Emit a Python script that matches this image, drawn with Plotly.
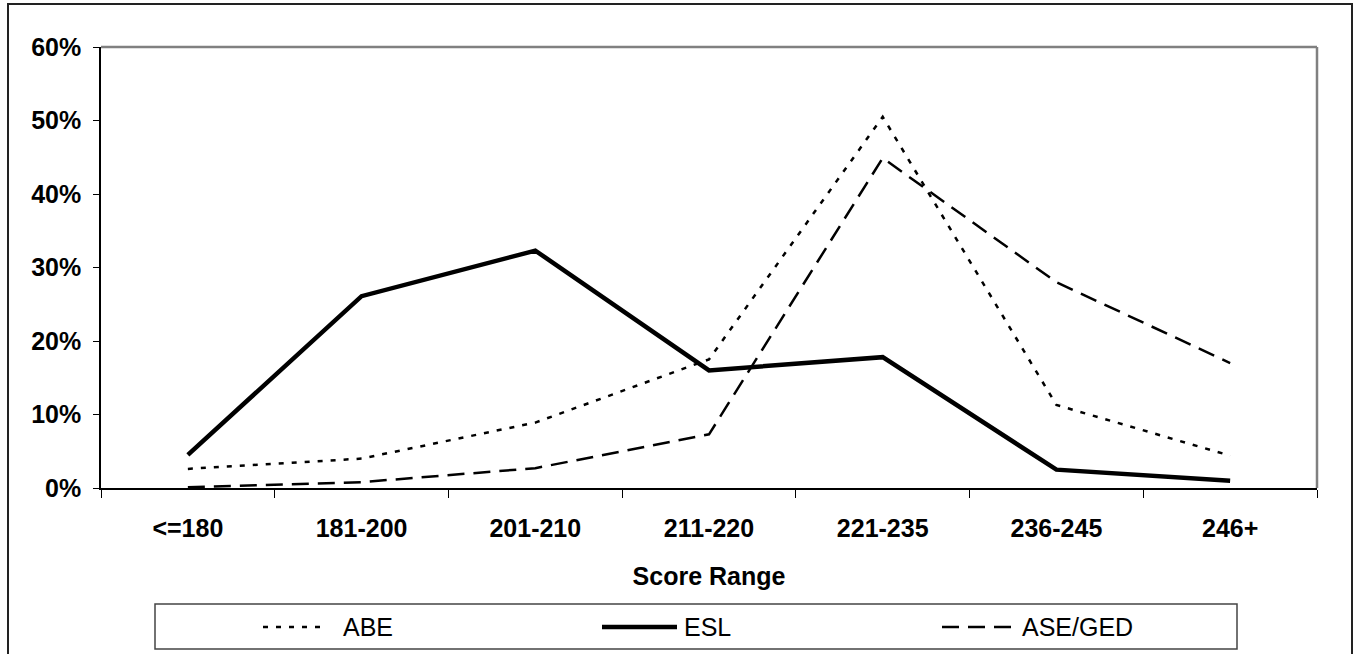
import plotly.graph_objects as go

# Score ranges on the x axis
score_ranges = ["<=180", "181-200", "201-210", "211-220", "221-235", "236-245", "246+"]

# Share of learners in each score range, by program
abe = [0.026, 0.040, 0.089, 0.175, 0.505, 0.113, 0.044]
esl = [0.045, 0.261, 0.323, 0.160, 0.178, 0.025, 0.010]
ase_ged = [0.001, 0.008, 0.027, 0.073, 0.449, 0.280, 0.170]

series_names = ["ABE", "ESL", "ASE/GED"]

W, H = 1361, 654
PL, PR, PT, PB = 101, 1317, 47, 488  # plot area in pixels

FONT = "Liberation Sans, Arial, sans-serif"


def px_x(px):
    return (px - PL) / (PR - PL)


def px_y(py):
    return (PB - py) / (PB - PT)


styles = [
    dict(color="black", width=2.5, dash="5px,8px"),
    dict(color="black", width=4.5, dash="solid"),
    dict(color="black", width=2.5, dash="17px,9px"),
]

fig = go.Figure()
for name, vals, st in zip(series_names, [abe, esl, ase_ged], styles):
    fig.add_trace(go.Scatter(
        x=score_ranges, y=vals, mode="lines", name=name,
        line=st, showlegend=False, hoverinfo="skip",
    ))

shapes = []
# outer frame of the chart
shapes.append(dict(type="rect", xref="paper", yref="paper",
                   x0=px_x(8), x1=px_x(1352), y0=px_y(700), y1=px_y(4),
                   line=dict(color="#222", width=2), fillcolor="rgba(0,0,0,0)", layer="below"))
# grey top and right edges of the plot area
shapes.append(dict(type="line", xref="paper", yref="paper", x0=0, x1=1, y0=1, y1=1,
                   line=dict(color="#808080", width=2.5)))
shapes.append(dict(type="line", xref="paper", yref="paper", x0=1, x1=1, y0=0, y1=1,
                   line=dict(color="#808080", width=2.5)))

# key box below the axis title
shapes.append(dict(type="rect", xref="paper", yref="paper",
                   x0=px_x(155), x1=px_x(1237), y0=px_y(649), y1=px_y(604),
                   line=dict(color="#444", width=1.5), fillcolor="rgba(0,0,0,0)"))

key_y = px_y(627)
key_lines = [(263, 327, 341), (602, 677, 682), (942, 1013, 1020)]
annotations = []
for name, st, (lx0, lx1, tx) in zip(series_names, styles, key_lines):
    shapes.append(dict(type="line", xref="paper", yref="paper",
                       x0=px_x(lx0), x1=px_x(lx1), y0=key_y, y1=key_y,
                       line=st))
    annotations.append(dict(xref="paper", yref="paper", x=px_x(tx), y=key_y,
                            text=name, showarrow=False, xanchor="left", yanchor="middle",
                            font=dict(family=FONT, size=25, color="black")))

fig.update_layout(
    width=W, height=H,
    margin=dict(l=PL, r=W - PR, t=PT, b=H - PB, pad=0),
    paper_bgcolor="white", plot_bgcolor="white",
    font=dict(family=FONT, color="black"),
    shapes=shapes, annotations=annotations,
    xaxis=dict(
        type="category", range=[-0.5, 6.5],
        showline=True, linecolor="black", linewidth=1.5,
        ticks="outside", ticklen=8, tickwidth=1, tickcolor="black",
        tickson="boundaries", showgrid=False, zeroline=False,
        tickfont=dict(family=FONT, size=25, color="black", weight="bold"),
        ticklabelstandoff=17,
        title=dict(text="Score Range", standoff=27,
                   font=dict(family=FONT, size=25, color="black", weight="bold")),
        automargin=False,
    ),
    yaxis=dict(
        range=[0, 0.6], dtick=0.1, tickformat=".0%",
        showline=True, linecolor="black", linewidth=1.5,
        ticks="outside", ticklen=6, tickwidth=1, tickcolor="black",
        showgrid=False, zeroline=False,
        tickfont=dict(family=FONT, size=25, color="black", weight="bold"),
        ticklabelstandoff=7,
        automargin=False,
    ),
)

fig.write_html("out.html")
